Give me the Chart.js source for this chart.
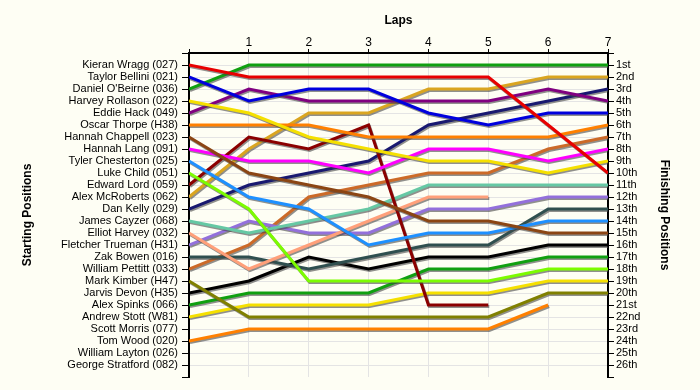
<!DOCTYPE html>
<html>
<head>
<meta charset="utf-8">
<script src="https://cdn.jsdelivr.net/npm/chart.js@4.4.0/dist/chart.umd.min.js"></script>
<style>
  html, body { margin: 0; padding: 0; background: #fefef4; }
  #wrap { width: 700px; height: 390px; }
</style>
</head>
<body>
<div id="wrap"><canvas id="lapChart" width="700" height="390"></canvas></div>
<script>
// Lap chart -- position of each driver after every lap (lap 0 = grid)

const drivers = [
  'Kieran Wragg (027)', 'Taylor Bellini (021)', "Daniel O'Beirne (036)", 'Harvey Rollason (022)',
  'Eddie Hack (049)', 'Oscar Thorpe (H38)', 'Hannah Chappell (023)', 'Hannah Lang (091)',
  'Tyler Chesterton (025)', 'Luke Child (051)', 'Edward Lord (059)', 'Alex McRoberts (062)',
  'Dan Kelly (029)', 'James Cayzer (068)', 'Elliot Harvey (032)', 'Fletcher Trueman (H31)',
  'Zak Bowen (016)', 'William Pettitt (033)', 'Mark Kimber (H47)', 'Jarvis Devon (H35)',
  'Alex Spinks (066)', 'Andrew Stott (W81)', 'Scott Morris (077)', 'Tom Wood (020)',
  'William Layton (026)', 'George Stratford (082)'
];

const finishLabels = [
  '1st', '2nd', '3rd', '4th', '5th', '6th', '7th', '8th', '9th', '10th', '11th', '12th', '13th',
  '14th', '15th', '16th', '17th', '18th', '19th', '20th', '21st', '22nd', '23rd', '24th', '25th', '26th'
];

const laps = [0, 1, 2, 3, 4, 5, 6, 7];

// one row per driver, same order as drivers[]; null = not running
const racePositions = [
  [1, 2, 2, 2, 2, 2, 6, 10],
  [2, 4, 3, 3, 5, 6, 5, 5],
  [3, 1, 1, 1, 1, 1, 1, 1],
  [4, 5, 7, 8, 9, 9, 10, 9],
  [5, 3, 4, 4, 4, 4, 3, 4],
  [6, 6, 6, 7, 7, 7, 7, 6],
  [7, 10, 11, 12, 14, 14, 15, 15],
  [8, 9, 9, 10, 8, 8, 9, 8],
  [9, 12, 13, 16, 15, 15, 14, 14],
  [10, 13, 19, 19, 19, 19, 18, 18],
  [11, 7, 8, 6, 21, 21, null, null],
  [12, 8, 5, 5, 3, 3, 2, 2],
  [13, 11, 10, 9, 6, 5, 4, 3],
  [14, 15, 14, 13, 11, 11, 11, 11],
  [15, 18, 16, 14, 12, 12, null, null],
  [16, 14, 15, 15, 13, 13, 12, 12],
  [17, 17, 18, 17, 16, 16, 13, 13],
  [18, 16, 12, 11, 10, 10, 8, 7],
  [19, 22, 22, 22, 22, 22, 20, 20],
  [20, 19, 17, 18, 17, 17, 16, 16],
  [21, 20, 20, 20, 18, 18, 17, 17],
  [22, 21, 21, 21, 20, 20, 19, 19],
  null,
  [24, 23, 23, 23, 23, 23, 21, null],
  null,
  null
];

const lineColors = [
  '#e80000', '#0000dd', '#10a010', '#f5e000', '#800080', '#ff8000', '#8b4513', '#ff00ff',
  '#1e90ff', '#7cfc00', '#8b0000', '#daa520', '#191970', '#66c8a4', '#ffa07a', '#9370db',
  '#2f4f4f', '#cc6a28', '#808000', '#000000', '#10a010', '#f5e000', '#800080', '#ff8000',
  '#8b4513', '#ff00ff'
];

const FONT = 'Liberation Sans, Arial, sans-serif';

const datasets = [];
racePositions.forEach((row, i) => {
  if (!row) return;
  datasets.push({
    label: drivers[i],
    data: laps.map((lap, k) => ({ x: lap, y: row[k] })),
    borderColor: lineColors[i],
    borderWidth: 3,
    pointRadius: 0,
    tension: 0,
    fill: false,
    spanGaps: false
  });
});

// grey drop shadow under every line, like the original
const lineShadow = {
  id: 'lineShadow',
  beforeDatasetDraw(chart) {
    const ctx = chart.ctx;
    ctx.save();
    ctx.shadowColor = 'rgba(70,70,70,0.6)';
    ctx.shadowOffsetX = 1;
    ctx.shadowOffsetY = 1.5;
    ctx.shadowBlur = 0;
  },
  afterDatasetDraw(chart) {
    chart.ctx.restore();
  }
};

const gridCol = '#e4e4e4';

new Chart(document.getElementById('lapChart'), {
  type: 'line',
  data: { datasets },
  plugins: [lineShadow],
  options: {
    responsive: false,
    animation: false,
    devicePixelRatio: 1,
    layout: { padding: { left: 0, right: 0, top: 0, bottom: 13 } },
    plugins: { legend: { display: false }, tooltip: { enabled: false } },
    scales: {
      x: {
        type: 'linear',
        position: 'top',
        min: 0,
        max: 7,
        afterFit: s => { s.height = 53; },
        ticks: {
          stepSize: 1,
          autoSkip: false,
          color: '#000',
          padding: -1,
          font: { family: FONT, size: 12 },
          callback: v => (v === 0 ? '' : String(v))
        },
        grid: { color: gridCol, tickColor: '#000', tickLength: 4, lineWidth: 1 },
        border: { color: '#000', width: 2 },
        title: {
          display: true,
          text: 'Laps',
          color: '#000',
          padding: { top: 13, bottom: 0 },
          font: { family: FONT, size: 12, weight: 'bold' }
        }
      },
      y: {
        type: 'linear',
        position: 'left',
        reverse: true,
        min: 0,
        max: 27,
        afterFit: s => { s.width = 189; },
        ticks: {
          stepSize: 1,
          autoSkip: false,
          color: '#000',
          padding: 4,
          font: { family: FONT, size: 11 },
          callback: v => drivers[v - 1] || ''
        },
        grid: {
          color: c => (c.tick && c.tick.value === 27 ? 'rgba(0,0,0,0)' : gridCol),
          tickColor: '#000',
          tickLength: 7
        },
        border: { color: '#000', width: 2 },
        title: {
          display: true,
          text: 'Starting Positions',
          color: '#000',
          padding: { top: 20, bottom: 0 },
          font: { family: FONT, size: 12, weight: 'bold' }
        }
      },
      y2: {
        type: 'linear',
        position: 'right',
        reverse: true,
        min: 0,
        max: 27,
        afterFit: s => { s.width = 92; },
        ticks: {
          stepSize: 1,
          autoSkip: false,
          color: '#000',
          padding: 2,
          font: { family: FONT, size: 11 },
          callback: v => finishLabels[v - 1] || ''
        },
        grid: { drawOnChartArea: false, tickColor: '#000', tickLength: 6 },
        border: { color: '#000', width: 2 },
        title: {
          display: true,
          text: 'Finishing Positions',
          color: '#000',
          padding: { top: 28, bottom: 0 },
          font: { family: FONT, size: 12, weight: 'bold' }
        }
      }
    }
  }
});
</script>
</body>
</html>
